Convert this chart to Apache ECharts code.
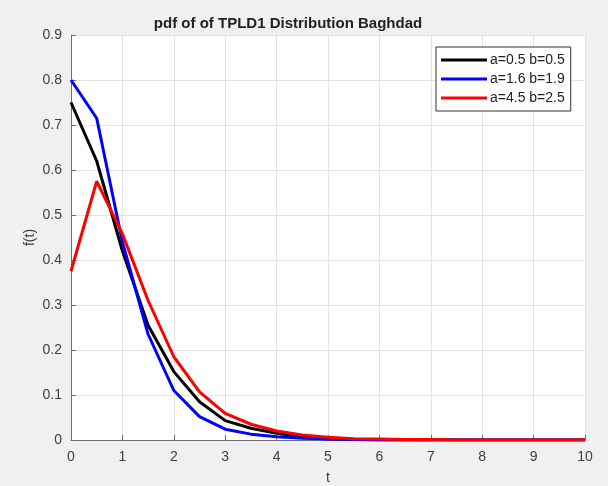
<!DOCTYPE html>
<html>
<head>
<meta charset="utf-8">
<script src="https://cdn.jsdelivr.net/npm/echarts@6/dist/echarts.min.js"></script>
<style>
html,body{margin:0;padding:0;background:#f0f0f0;}
#chart{width:608px;height:486px;}
</style>
</head>
<body>
<div id="chart"></div>
<script>
var tVals = [0, 0.5, 1, 1.5, 2, 2.5, 3, 3.5, 4, 4.5, 5, 5.5, 6, 6.5, 7, 7.5, 8, 8.5, 9, 9.5, 10];
var blackVals = [0.75, 0.62, 0.42, 0.255, 0.152, 0.085, 0.043, 0.026, 0.015, 0.007, 0.003, 0.001, 0, 0, 0, 0, 0, 0, 0, 0, 0];
var blueVals = [0.80, 0.715, 0.44, 0.235, 0.11, 0.052, 0.024, 0.013, 0.007, 0.004, 0.002, 0.001, 0, 0, 0, 0, 0, 0, 0, 0, 0];
var redVals = [0.375, 0.575, 0.458, 0.31, 0.185, 0.107, 0.059, 0.035, 0.02, 0.011, 0.006, 0.003, 0.002, 0.001, 0.001, 0, 0, 0, 0, 0, 0];
var names = ['a=0.5 b=0.5', 'a=1.6 b=1.9', 'a=4.5 b=2.5'];
var colors = ['#000000', '#0000ff', '#ff0000'];

function pairs(vals) {
	return tVals.map(function (t, i) { return [t, vals[i]]; });
}

var myChart = echarts.init(document.getElementById('chart'));
var font = 'Liberation Sans, Arial, sans-serif';
var axisGray = '#6e6e6e';
var textGray = '#404040';

var option = {
	backgroundColor: '#f0f0f0',
	animation: false,
	title: {
		text: 'pdf of of TPLD1 Distribution Baghdad',
		left: 283,
		textAlign: 'center',
		top: 11,
		textStyle: { fontFamily: font, fontSize: 15, fontWeight: 'bold', color: '#222' }
	},
	legend: {
		orient: 'vertical',
		left: 436,
		top: 47,
		padding: [5, 6, 5, 5],
		itemGap: 3,
		itemWidth: 46,
		itemHeight: 3,
		icon: 'rect',
		backgroundColor: '#fff',
		borderColor: '#333',
		borderWidth: 1,
		borderRadius: 0,
		textStyle: { fontFamily: font, fontSize: 14, color: '#222', padding: [0, 0, 0, -2], lineHeight: 16 },
		data: names
	},
	grid: {
		left: 71, right: 23, top: 35, bottom: 46,
		outerBoundsMode: 'none',
		show: true, backgroundColor: '#fff', borderWidth: 0
	},
	xAxis: {
		type: 'value',
		min: 0, max: 10, interval: 1,
		name: 't',
		nameLocation: 'middle',
		nameGap: 31,
		nameMoveOverlap: false,
		nameTextStyle: { fontFamily: font, fontSize: 14, color: textGray },
		axisLine: { onZero: false, lineStyle: { color: axisGray, width: 1 } },
		axisTick: { inside: true, length: 5, lineStyle: { color: axisGray } },
		axisLabel: { fontFamily: font, fontSize: 14, color: textGray, margin: 10 },
		splitLine: { show: true, lineStyle: { color: '#e3e3e3', width: 1 } }
	},
	yAxis: {
		type: 'value',
		min: 0, max: 0.9, interval: 0.1,
		name: 'f(t)',
		nameLocation: 'middle',
		nameGap: 34,
		nameMoveOverlap: false,
		nameTextStyle: { fontFamily: font, fontSize: 14, color: textGray },
		axisLine: { show: true, onZero: false, lineStyle: { color: axisGray, width: 1 } },
		axisTick: { show: true, inside: true, length: 5, lineStyle: { color: axisGray } },
		axisLabel: {
			fontFamily: font, fontSize: 14, color: textGray, margin: 9,
			formatter: function (v) { return v === 0 ? '0' : v.toFixed(1); }
		},
		splitLine: { show: true, lineStyle: { color: '#e3e3e3', width: 1 } }
	},
	series: [blackVals, blueVals, redVals].map(function (vals, i) {
		return {
			name: names[i],
			type: 'line',
			data: pairs(vals),
			showSymbol: false,
			symbol: 'none',
			color: colors[i],
			lineStyle: { width: 3, color: colors[i] },
			z: 2 + i
		};
	})
};

myChart.setOption(option);
window.addEventListener('resize', function () {
	myChart.resize();
});
</script>
</body>
</html>
